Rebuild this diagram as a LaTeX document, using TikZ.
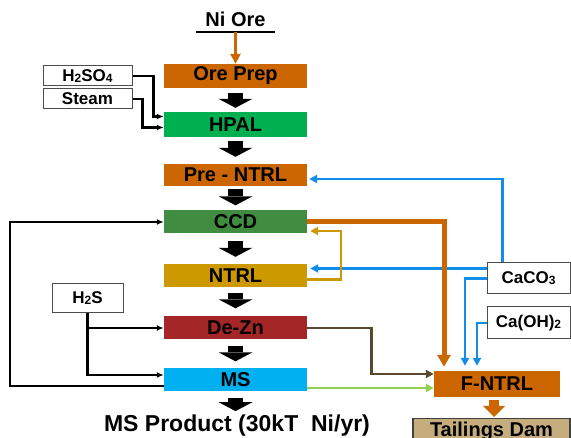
\documentclass[tikz,border=0pt]{standalone}
\usepackage{fontspec}
\setmainfont{Liberation Sans}
\usetikzlibrary{arrows.meta}

\definecolor{oreorange}{RGB}{204,102,0}
\definecolor{hpalgreen}{RGB}{0,176,80}
\definecolor{ccdgreen}{RGB}{64,140,64}
\definecolor{ntrlgold}{RGB}{204,153,0}
\definecolor{deznred}{RGB}{165,38,38}
\definecolor{msblue}{RGB}{0,176,240}
\definecolor{limeblue}{RGB}{17,140,235}
\definecolor{zincbrown}{RGB}{90,72,45}
\definecolor{msgreen}{RGB}{146,208,80}
\definecolor{damtan}{RGB}{198,173,126}

\newcommand{\chemsub}[1]{\raisebox{-1pt}{\fontsize{12}{12}\selectfont #1}}

\begin{document}
\begin{tikzpicture}[
  x=1pt, y=-1pt,
  unit/.style={
    minimum width=143pt,
    minimum height=23pt,
    inner sep=0pt,
    font=\fontsize{20}{24}\selectfont\bfseries
  },
  tag/.style={
    draw=black!70,
    line width=1pt,
    fill=white,
    inner sep=1pt,
    font=\fontsize{17}{20}\selectfont\bfseries
  },
  blk/.style={line width=15pt, draw=black, -{Triangle[length=9pt,width=34pt,line width=0pt]}},
  feed/.style={-{Latex[length=7pt,width=6pt]}, line width=2.2pt, draw=black},
  limeline/.style={-{Triangle[length=8pt,width=8pt]}, line width=2.4pt, draw=limeblue},
  orethick/.style={-{Triangle[length=12pt,width=13pt]}, line width=5pt, draw=oreorange},
  goldline/.style={-{Triangle[length=8pt,width=8pt]}, line width=2.4pt, draw=ntrlgold},
  brownline/.style={-{Triangle[length=8pt,width=8pt]}, line width=2.6pt, draw=zincbrown},
  greenline/.style={-{Triangle[length=8pt,width=8pt]}, line width=2.4pt, draw=msgreen}
]
\clip (0,0) rectangle (571,438);

% Main process train, top to bottom.
\node[font=\fontsize{20}{24}\selectfont\bfseries, minimum width=78pt, text depth=0pt,
  inner xsep=0pt, inner ysep=5pt, anchor=south] (niore) at (235.5,32) {Ni Ore};
\node[unit, fill=oreorange, minimum height=24pt] (orep)  at (235.5,76)    {Ore Prep};
\node[unit, fill=hpalgreen, minimum height=25pt] (hpal)  at (235.5,124.5) {HPAL};
\node[unit, fill=oreorange, minimum height=22pt] (prent) at (235.5,175)   {Pre - NTRL};
\node[unit, fill=ccdgreen]  (ccd)   at (235.5,222)   {CCD};
\node[unit, fill=ntrlgold]  (ntrl)  at (235.5,275.5) {NTRL};
\node[unit, fill=deznred]   (dezn)  at (235.5,328)   {De-Zn};
\node[unit, fill=msblue]    (ms)    at (235.5,380)   {MS};
\node[font=\fontsize{23}{27}\selectfont\bfseries, inner sep=2pt, anchor=base]
  (product) at (237,432) {MS Product (30kT\ \ Ni/yr)};

% Reagents.
\node[tag, minimum width=89pt, minimum height=20pt] (h2so4) at (87.5,76)    {H\chemsub{2}SO\chemsub{4}};
\node[tag, minimum width=89pt, minimum height=20pt] (steam) at (87.5,99)    {Steam};
\node[tag, minimum width=71pt, minimum height=29pt] (h2s)   at (87.5,298.5) {H\chemsub{2}S};
\node[tag, minimum width=83pt, minimum height=31pt] (caco3) at (528.5,278.5) {CaCO\chemsub{3}};
\node[tag, minimum width=83pt, minimum height=32pt] (caoh)  at (528.5,323)   {Ca(OH)\chemsub{2}};

% Tailings side.
\node[unit, fill=oreorange, minimum width=126pt, minimum height=26pt] (fntrl) at (497,384) {F-NTRL};
\node[draw=black!75, line width=1.5pt, fill=damtan, minimum width=157pt, minimum height=25pt,
  inner sep=0pt, anchor=north, font=\fontsize{20}{24}\selectfont\bfseries] (dam) at (491.5,418) {Tailings Dam};

\draw[line width=2.6pt] (niore.south west) -- (niore.south east);
\draw[-{Triangle[length=10pt,width=10pt]}, line width=2.4pt, draw=oreorange] (niore.south) -- (orep.north);

\draw[blk, shorten <=5pt, shorten >=4pt] (orep) -- (hpal);
\draw[blk, shorten <=4pt, shorten >=7pt] (hpal) -- (prent);
\draw[blk, shorten <=3pt, shorten >=5pt] (prent) -- (ccd);
\draw[blk, shorten <=7pt, shorten >=7pt] (ccd) -- (ntrl);
\draw[blk, shorten <=6pt, shorten >=8pt] (ntrl) -- (dezn);
\draw[blk, shorten <=6pt, shorten >=7pt] (dezn) -- (ms);
\draw[blk, shorten <=6pt, shorten >=2pt] (ms.south) -- (ms.south |- product.north);

\draw[feed] (h2so4.east) -- ++(21,0) |- ([yshift=8pt]hpal.west);
\draw[feed] (steam.east) -- ++(10,0) |- ([yshift=-3pt]hpal.west);
\draw[feed] (h2s.south) |- (dezn.west);
\draw[feed] (h2s.south) |- ([yshift=5pt]ms.west);
\draw[feed] ([yshift=-6pt]ms.west) -- ++(-154,0) |- (ccd.west);

\draw[limeline, shorten >=2pt] ([xshift=-26pt]caco3.north) |- ([yshift=-4pt]prent.east);
\draw[limeline, shorten >=3pt] ([yshift=10pt]caco3.west) -- ([yshift=10pt]caco3.west -| ntrl.east);
\draw[limeline, shorten >=5pt] (caco3.west) -| ([xshift=-32pt]fntrl.north);
\draw[limeline, shorten >=5pt] (caoh.west) -| ([xshift=-20pt]fntrl.north);
\draw[orethick, shorten >=4pt] (ccd.east) -| ([xshift=-53pt]fntrl.north);
\draw[goldline, shorten >=3pt] ([yshift=-4pt]ntrl.east) -- ++(34,0) |- ([yshift=-9pt]ccd.east);
\draw[brownline] (dezn.east) -- ++(64,0) |- ([yshift=10pt]fntrl.west);
\draw[greenline] ([yshift=-8pt]ms.east) -- ([yshift=-8pt]ms.east -| fntrl.west);

\draw[line width=10pt, draw=oreorange, -{Triangle[length=11pt,width=22pt,line width=0pt]}, shorten <=3pt, shorten >=1pt]
  ([xshift=-3pt]fntrl.south) -- ([xshift=-3pt]fntrl.south |- dam.north);

\end{tikzpicture}
\end{document}
